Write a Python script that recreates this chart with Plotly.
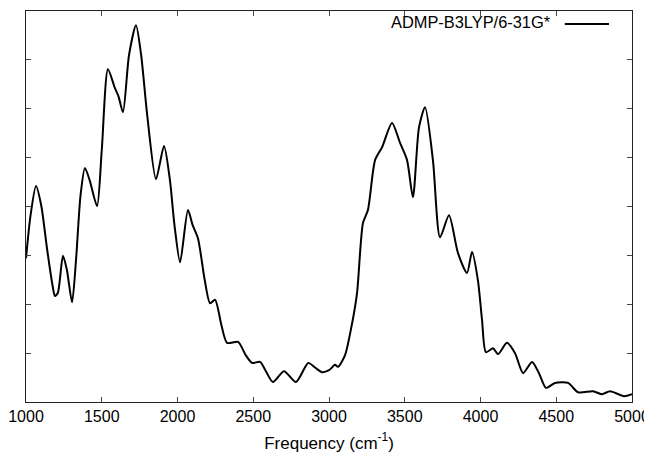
import plotly.graph_objects as go

freq = [1000, 1030, 1066, 1100, 1140, 1175, 1191, 1210, 1244, 1270, 1304, 1330, 1360, 1389, 1420, 1469,
        1500, 1541, 1587, 1610, 1640, 1680, 1726, 1760, 1800, 1858, 1911, 1950, 1980, 2017, 2069, 2100,
        2135, 2180, 2215, 2248, 2290, 2327, 2400, 2450, 2492, 2545, 2580, 2630, 2703, 2782, 2863, 2910,
        2954, 3000, 3040, 3059, 3106, 3150, 3185, 3224, 3257, 3304, 3350, 3416, 3469, 3515, 3554, 3594,
        3634, 3686, 3733, 3792, 3851, 3911, 3944, 3983, 4010, 4036, 4083, 4116, 4175, 4228, 4281, 4340,
        4386, 4432, 4492, 4578, 4644, 4743, 4802, 4855, 4947, 5000]
intensity = [2.94, 3.82, 4.42, 4.03, 3.11, 2.39, 2.17, 2.23, 2.99, 2.70, 2.04, 2.90, 4.23, 4.79, 4.54, 4.01,
             5.15, 6.81, 6.42, 6.26, 5.93, 7.10, 7.71, 7.10, 5.87, 4.56, 5.24, 4.54, 3.62, 2.86, 3.93, 3.62,
             3.35, 2.49, 2.02, 2.09, 1.57, 1.21, 1.23, 0.96, 0.80, 0.82, 0.65, 0.41, 0.63, 0.41, 0.80, 0.70,
             0.61, 0.65, 0.76, 0.72, 0.96, 1.57, 2.23, 3.66, 3.93, 4.95, 5.21, 5.71, 5.30, 4.95, 4.19, 5.62,
             6.03, 4.95, 3.37, 3.82, 3.05, 2.64, 3.07, 2.49, 1.68, 1.02, 1.10, 0.98, 1.21, 1.00, 0.59, 0.82,
             0.59, 0.29, 0.39, 0.39, 0.20, 0.22, 0.16, 0.22, 0.12, 0.16]
x_ticks = [1000, 1500, 2000, 2500, 3000, 3500, 4000, 4500, 5000]
series_name = "ADMP-B3LYP/6-31G*"

font_family = "Liberation Sans, Arial, sans-serif"

fig = go.Figure()
fig.add_trace(go.Scatter(x=freq, y=intensity, mode="lines", name=series_name,
                         line=dict(color="black", width=2, shape="spline", smoothing=0.7),
                         showlegend=False))

# page body has an 8px default margin, so the figure is sized/offset to compensate
fig.update_layout(
    width=644, height=445,
    margin=dict(l=18, r=20, t=3, b=51),
    plot_bgcolor="white", paper_bgcolor="white",
    font=dict(family=font_family, size=16, color="black"),
    xaxis=dict(range=[1000, 5000], tickvals=x_ticks, ticks="inside", ticklen=5,
               mirror="allticks", showline=True, linecolor="#222", linewidth=1,
               showgrid=False, zeroline=False, tickfont=dict(size=16), automargin=False,
               title=dict(text="Frequency (cm<sup>-1</sup>)", font=dict(size=17), standoff=12)),
    yaxis=dict(range=[0, 8], dtick=1, ticks="inside", ticklen=5, mirror="allticks",
               showline=True, linecolor="#222", linewidth=1, showgrid=False, automargin=False,
               zeroline=False, showticklabels=False),
)

# legend (text with sample line on its right, as in the reference)
fig.add_annotation(x=0.870, y=0.972, xref="paper", yref="paper", text=series_name,
                   showarrow=False, xanchor="right", yanchor="middle",
                   font=dict(size=16.4, family=font_family))
fig.add_shape(type="line", xref="paper", yref="paper", x0=0.889, x1=0.962, y0=0.967, y1=0.967,
              line=dict(color="black", width=2))

fig.write_html("out.html")
